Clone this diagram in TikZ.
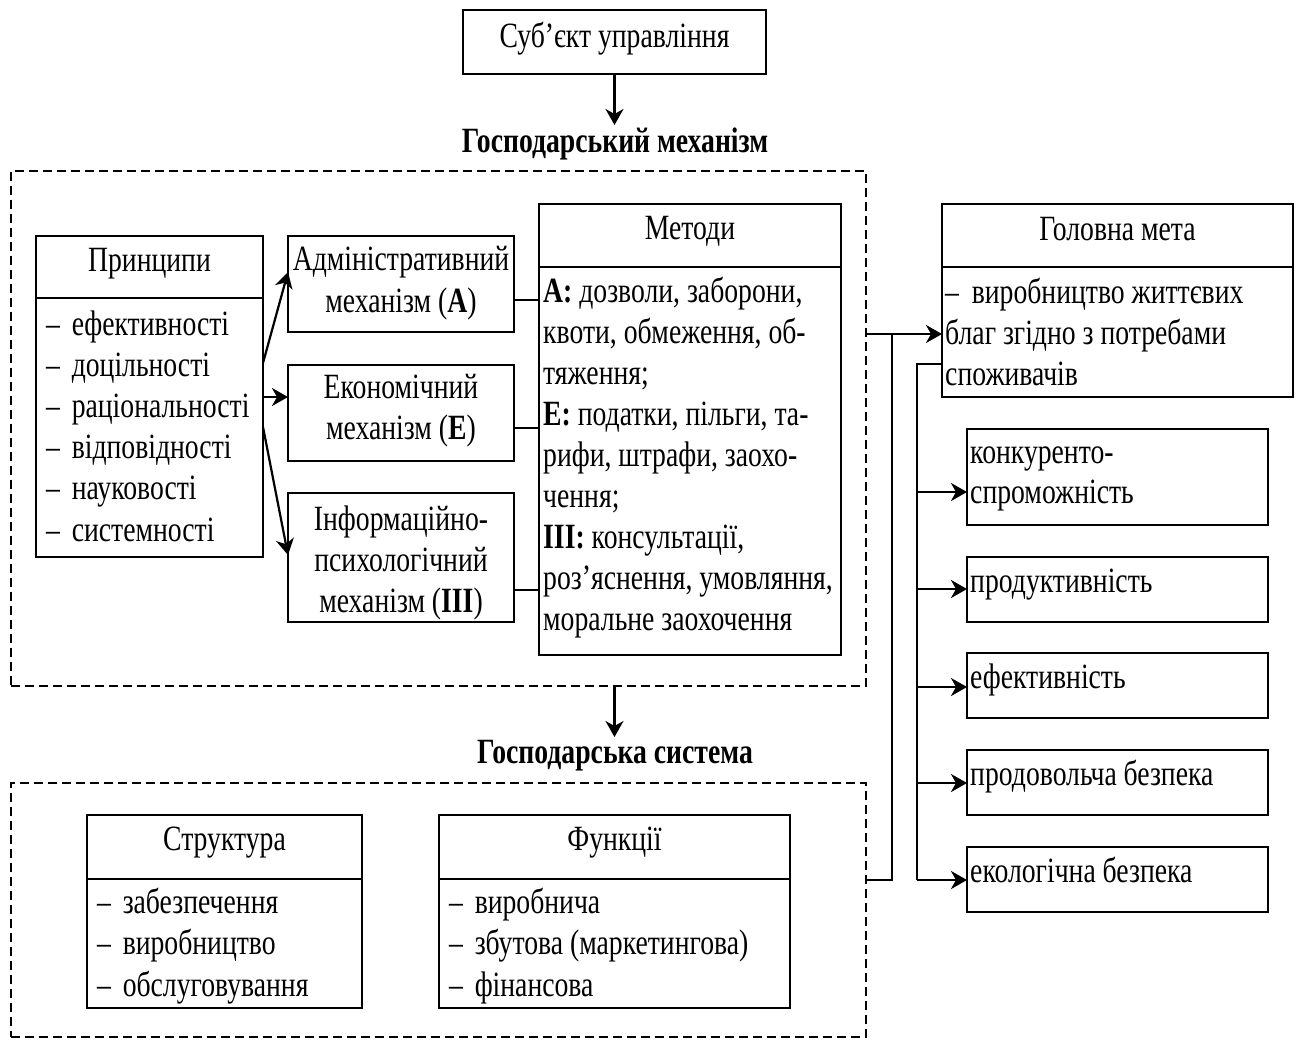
\documentclass[tikz,border=0pt]{standalone}
\usepackage{fontspec}
\setmainfont{Liberation Serif}[FakeStretch=0.78]
\usetikzlibrary{arrows.meta}
\newcommand\dgfont{\fontsize{35.5}{41}\selectfont}
\newcommand\dash{–\hspace{0.33em}}
% rectangle node given by its top-left and bottom-right corners
\newcommand\rbox[6][]{\node[box,#1,anchor=north west,minimum width={#5-#3},minimum height={#6-#4}] (#2) at (#3,#4) {};}
\begin{document}
\begin{tikzpicture}[x=1pt,y=-1pt,
  box/.style={draw,line width=2.4pt,inner sep=0pt,outer sep=0pt},
  dbox/.style={line width=2pt,dash pattern=on 9pt off 5pt},
  txt/.style={inner sep=0pt,font=\dgfont,anchor=base west},
  ctxt/.style={inner sep=0pt,font=\dgfont,anchor=base},
  link/.style={line width=2.2pt},
  arr/.style={link,-{Stealth[length=16pt,width=18pt,inset=5pt]}}]
\useasboundingbox (0,0) rectangle (1301,1039);

% --- subject of management
\rbox{subj}{463}{10}{766}{74}
\node[ctxt] (subjt) at (614.5,47) {Суб’єкт управління};
\coordinate (mtop) at (614.5,125);
\node[ctxt,font=\dgfont\bfseries] (mtitle) at (615,152) {Господарський механізм};
\draw[arr] (subj.south) -- (mtop);

% --- economic mechanism (dashed frame)
\rbox[dbox]{mech}{11}{171}{866}{686}

% principles
\rbox{princ}{36}{236}{263}{557}
\draw[box] (princ.west |- 0,298) -- (princ.east |- 0,298);
\node[ctxt] (princh) at (149.5,271) {Принципи};
\foreach \t [count=\i] in {ефективності,доцільності,раціональності,відповідності,науковості,системності}
  \node[txt] (p\i) at (46,{335+41.2*(\i-1)}) {\dash\t};

% mechanisms
\rbox{adm}{288}{236}{514}{332}
\node[ctxt] (adm1) at (401,270) {Адміністративний};
\node[ctxt] (adm2) at (401,312) {механізм (\textbf{А})};
\rbox{econ}{288}{365}{514}{461}
\node[ctxt] (econ1) at (401,398) {Економічний};
\node[ctxt] (econ2) at (401,439) {механізм (\textbf{Е})};
\rbox{info}{288}{493}{514}{622}
\node[ctxt] (info1) at (401,530) {Інформаційно-};
\node[ctxt] (info2) at (401,571) {психологічний};
\node[ctxt] (info3) at (401,612) {механізм (\textbf{ІІІ})};

\coordinate (pa) at (263,363);
\coordinate (pb) at (263,397);
\coordinate (pc) at (263,427);
\draw[arr] (pa) -- (288,272) coordinate (admin);
\draw[arr] (pb) -- (econ.west |- pb);
\draw[arr] (pc) -- (288,555) coordinate (infoin);

% methods
\rbox{meth}{539}{204}{841}{655}
\draw[box] (meth.west |- 0,267) -- (meth.east |- 0,267);
\node[ctxt] (methh) at (690,239) {Методи};
\foreach \t [count=\i] in {{\textbf{А:} дозволи, заборони,},{квоти, обмеження, об-},{тяження;},
  {\textbf{Е:} податки, пільги, та-},{рифи, штрафи, заохо-},{чення;},
  {\textbf{ІІІ:} консультації,},{роз’яснення, умовляння,},{моральне заохочення}}
  \node[txt] (m\i) at (543,{302+41*(\i-1)}) {\t};

\draw[link] (adm.east |- 0,300) -- (meth.west |- 0,300);
\draw[link] (econ.east |- 0,428) -- (meth.west |- 0,428);
\draw[link] (info.east |- 0,590) -- (meth.west |- 0,590);

% --- economic system (dashed frame)
\coordinate (stop) at (614.5,737);
\draw[arr] (mech.south -| stop) -- (stop);
\node[ctxt,font=\dgfont\bfseries] (stitle) at (615,763) {Господарська система};
\rbox[dbox]{sys}{11}{783}{866}{1037}

\rbox{struct}{87}{815}{362}{1008}
\draw[box] (struct.west |- 0,879) -- (struct.east |- 0,879);
\node[ctxt] (structh) at (224.5,850) {Структура};
\foreach \t [count=\i] in {забезпечення,виробництво,обслуговування}
  \node[txt] (s\i) at (97,{913+41.5*(\i-1)}) {\dash\t};

\rbox{func}{439}{815}{790}{1008}
\draw[box] (func.west |- 0,879) -- (func.east |- 0,879);
\node[ctxt] (funch) at (614.5,850) {Функції};
\foreach \t [count=\i] in {виробнича,збутова (маркетингова),фінансова}
  \node[txt] (f\i) at (449,{913+41.5*(\i-1)}) {\dash\t};

% --- main goal
\rbox{goal}{942}{204}{1293}{397}
\draw[box] (goal.west |- 0,267) -- (goal.east |- 0,267);
\node[ctxt] (goalh) at (1117.5,240) {Головна мета};
\node[txt] (g1) at (945,303) {–\hspace{0.36em}виробництво життєвих};
\node[txt] (g2) at (945,344) {благ згідно з потребами};
\node[txt] (g3) at (945,385) {споживачів};

% criteria boxes
\rbox{c1}{967}{429}{1268}{525}
\node[txt] (c1a) at (970,463) {конкуренто-};
\node[txt] (c1b) at (970,503) {спроможність};
\rbox{c2}{967}{557}{1268}{622}
\node[txt] (c2a) at (970,592) {продуктивність};
\rbox{c3}{967}{653}{1268}{718}
\node[txt] (c3a) at (970,688) {ефективність};
\rbox{c4}{967}{750}{1268}{815}
\node[txt] (c4a) at (970,785) {продовольча безпека};
\rbox{c5}{967}{847}{1268}{912}
\node[txt] (c5a) at (970,882) {екологічна безпека};

% feeds into the main goal
\coordinate (ja) at (892,334);
\coordinate (jb) at (892,880);
\draw[arr] (mech.east |- ja) -- (goal.west |- ja);
\draw[link] (sys.east |- jb) -- (jb) -- (ja);

% main goal branches to the criteria
\coordinate (ka) at (917,364);
\coordinate (kb) at (917,880);
\draw[link] (goal.west |- ka) -- (ka) -- (kb);
\draw[arr] (917,492) -- (c1.west |- 0,492);
\draw[arr] (917,589) -- (c2.west |- 0,589);
\draw[arr] (917,687) -- (c3.west |- 0,687);
\draw[arr] (917,783) -- (c4.west |- 0,783);
\draw[arr] (kb) -- (c5.west |- kb);
\end{tikzpicture}
\end{document}
